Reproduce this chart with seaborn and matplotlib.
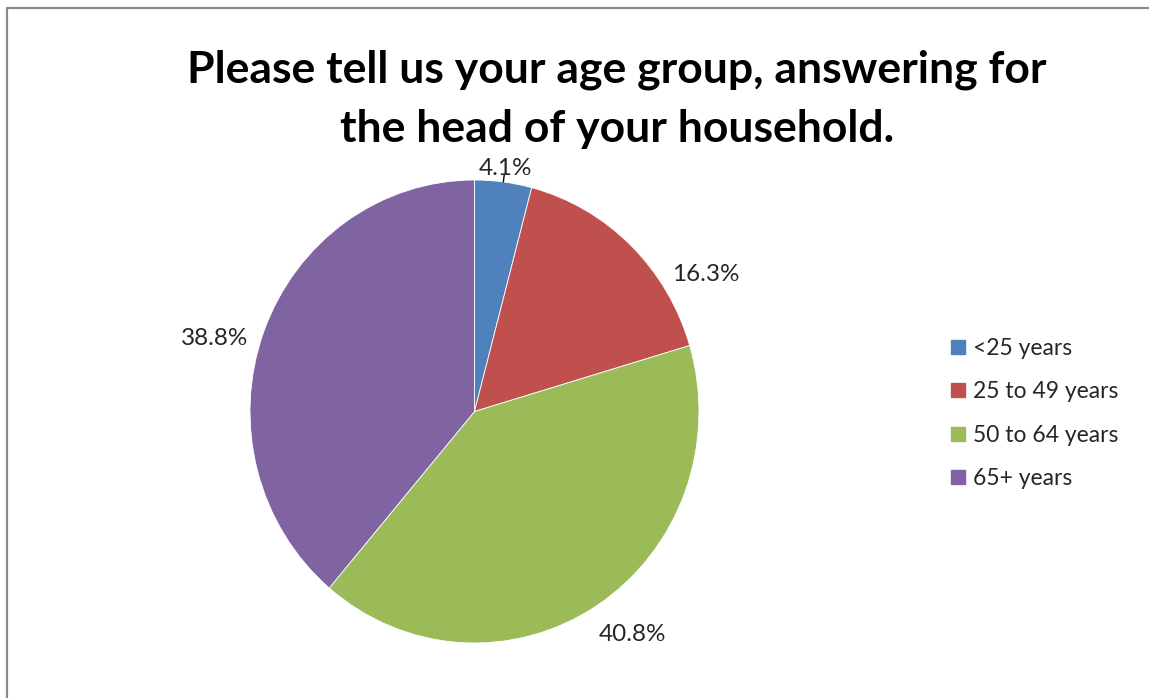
import numpy as np
import matplotlib
matplotlib.use("Agg")
import matplotlib.pyplot as plt
from matplotlib.lines import Line2D
import seaborn as sns

# Survey results: age group of the head of household (percent of responses)
categories = ["<25 years", "25 to 49 years", "50 to 64 years", "65+ years"]
shares = [4.1, 16.3, 40.8, 38.8]
title_lines = ["Please tell us your age group, answering for",
               "the head of your household."]
slice_colors = ["#4F81BD", "#C0504D", "#9BBB59", "#8064A2"]

# Percentage label placement: distance from centre (in radii) and angular nudge (degrees)
label_radius = [1.06, 1.19, 1.19, 1.2]
label_nudge = [0.0, -16.0, 3.0, 5.0]

sns.set_theme(style="white")
plt.rcParams["font.family"] = ["Lato", "DejaVu Sans"]

W, H = 1149, 698
fig = plt.figure(figsize=(W / 100, H / 100), dpi=100)
fig.patch.set_facecolor("white")

ax = fig.add_axes([250 / W, 55 / H, 449 / W, 463 / H])
palette = sns.color_palette(slice_colors)
wedges, _ = ax.pie(shares, colors=palette, startangle=90, counterclock=False,
                   wedgeprops=dict(edgecolor="white", linewidth=0.6))
ax.set_aspect("auto")
ax.set_xlim(-1, 1)
ax.set_ylim(-1, 1)

for i, (w, val, r, d) in enumerate(zip(wedges, shares, label_radius, label_nudge)):
    ang = np.deg2rad((w.theta1 + w.theta2) / 2 + d)
    ax.text(r * np.cos(ang), r * np.sin(ang), f"{val:.1f}%", ha="center",
            va="center", fontsize=17.5, color="#262626")
    if i == 0:
        # short leader tick for the thin first slice
        ax.plot([1.0 * np.cos(ang), 1.03 * np.cos(ang)],
                [1.0 * np.sin(ang), 1.03 * np.sin(ang)],
                color="black", lw=1, clip_on=False)

handles = [Line2D([], [], marker="s", ls="", markersize=9.5,
                  markerfacecolor=c, markeredgecolor=c) for c in palette]
fig.legend(handles, categories, loc="upper left",
           bbox_to_anchor=(924 / W, 1 - 317 / H), frameon=False, fontsize=16.5,
           labelspacing=0.98, handletextpad=0.05, handlelength=1.2,
           labelcolor="#262626")

fig.text(0.537, 1 - 50 / H, "\n".join(title_lines), ha="center", va="top",
         fontsize=32, fontweight="bold", linespacing=1.55, color="black")

# chart frame (left and top edges)
frame = dict(color="#8a8a8a", lw=1.6, transform=fig.transFigure)
fig.add_artist(Line2D([6.5 / W, 6.5 / W], [0, 1 - 8 / H], **frame))
fig.add_artist(Line2D([6.5 / W, 1], [1 - 8 / H, 1 - 8 / H], **frame))

fig.savefig("out.png", dpi=100, facecolor="white")
